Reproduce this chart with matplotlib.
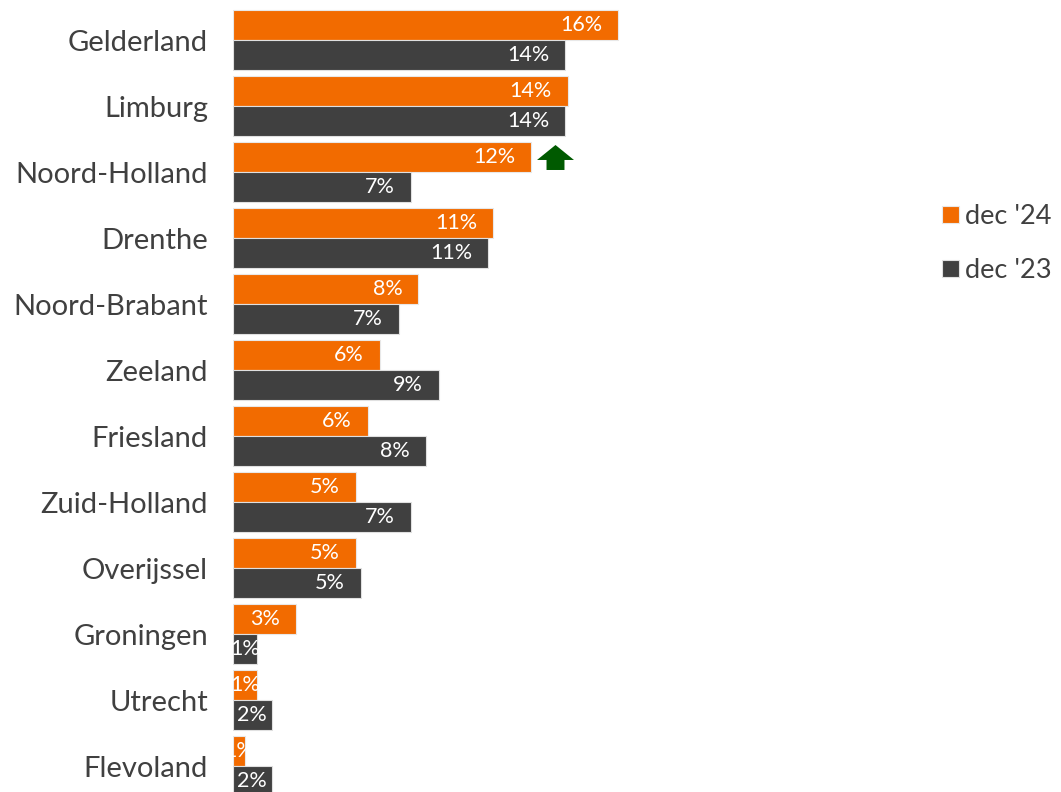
import matplotlib
matplotlib.use("Agg")
import matplotlib.pyplot as plt
from matplotlib.path import Path
import numpy as np

categories = ["Gelderland", "Limburg", "Noord-Holland", "Drenthe", "Noord-Brabant",
              "Zeeland", "Friesland", "Zuid-Holland", "Overijssel", "Groningen",
              "Utrecht", "Flevoland"]
dec24 = [16.0, 13.9, 12.4, 10.8, 7.7, 6.1, 5.6, 5.1, 5.1, 2.6, 1.0, 0.5]
dec23 = [13.8, 13.8, 7.4, 10.6, 6.9, 8.55, 8.0, 7.4, 5.3, 1.0, 1.6, 1.6]
series_names = ["dec '24", "dec '23"]
colors = ["#F26B00", "#404040"]

plt.rcParams['font.family'] = ['Lato', 'DejaVu Sans']

W, H = 1061, 792
fig = plt.figure(figsize=(W / 100, H / 100), dpi=100)
ax_left, ax_right = 233, 907
ax_top, ax_bottom = 7, 799
ax = fig.add_axes([ax_left / W, (H - ax_bottom) / H, (ax_right - ax_left) / W, (ax_bottom - ax_top) / H])

n = len(categories)
y = np.arange(n)
bh = 0.455
ax.barh(y - bh / 2, dec24, height=bh, color=colors[0], edgecolor="#E8E8E8", linewidth=0.8, label=series_names[0])
ax.barh(y + bh / 2, dec23, height=bh, color=colors[1], edgecolor="#E0E0E0", linewidth=0.8, label=series_names[1])

pad = 0.66
for i in range(n):
    for val, off in ((dec24[i], -bh / 2), (dec23[i], bh / 2)):
        txt = f"{int(val + 0.5)}%"
        if val - pad < 1.5:
            ax.text(val / 2, y[i] + off, txt, ha="center", va="center",
                    color="white", fontsize=15.5, clip_on=True)
        else:
            ax.text(val - pad, y[i] + off, txt, ha="right", va="center",
                    color="white", fontsize=15.5, clip_on=True)

ax.set_xlim(0, 28)
ax.set_ylim(n - 0.5, -0.5)
ax.set_yticks(y)
ax.set_yticklabels(categories, fontsize=21, color="#404040")
ax.tick_params(axis="y", length=0, pad=18)
ax.set_xticks([])
for s in ax.spines.values():
    s.set_visible(False)

# green up arrow next to Noord-Holland
arrow = Path([(-0.243, -0.338), (0.243, -0.338), (0.243, -0.067), (0.5, -0.067),
              (0.0, 0.338), (-0.5, -0.067), (-0.243, -0.067), (-0.243, -0.338)],
             [Path.MOVETO] + [Path.LINETO] * 6 + [Path.CLOSEPOLY])
ai = categories.index("Noord-Holland")
ax.plot([dec24[ai] + 0.98], [y[ai] - bh / 2], marker=arrow, markersize=26.6,
        color="#005A00", markeredgewidth=0, linestyle="none")

leg = fig.legend(loc="upper left", bbox_to_anchor=(918 / W, 1 - 180 / H), frameon=False,
                 fontsize=19.5, handlelength=0.6, handleheight=0.6, handletextpad=0.25,
                 labelspacing=1.05, labelcolor="#404040")

fig.savefig("out.png", dpi=100)
